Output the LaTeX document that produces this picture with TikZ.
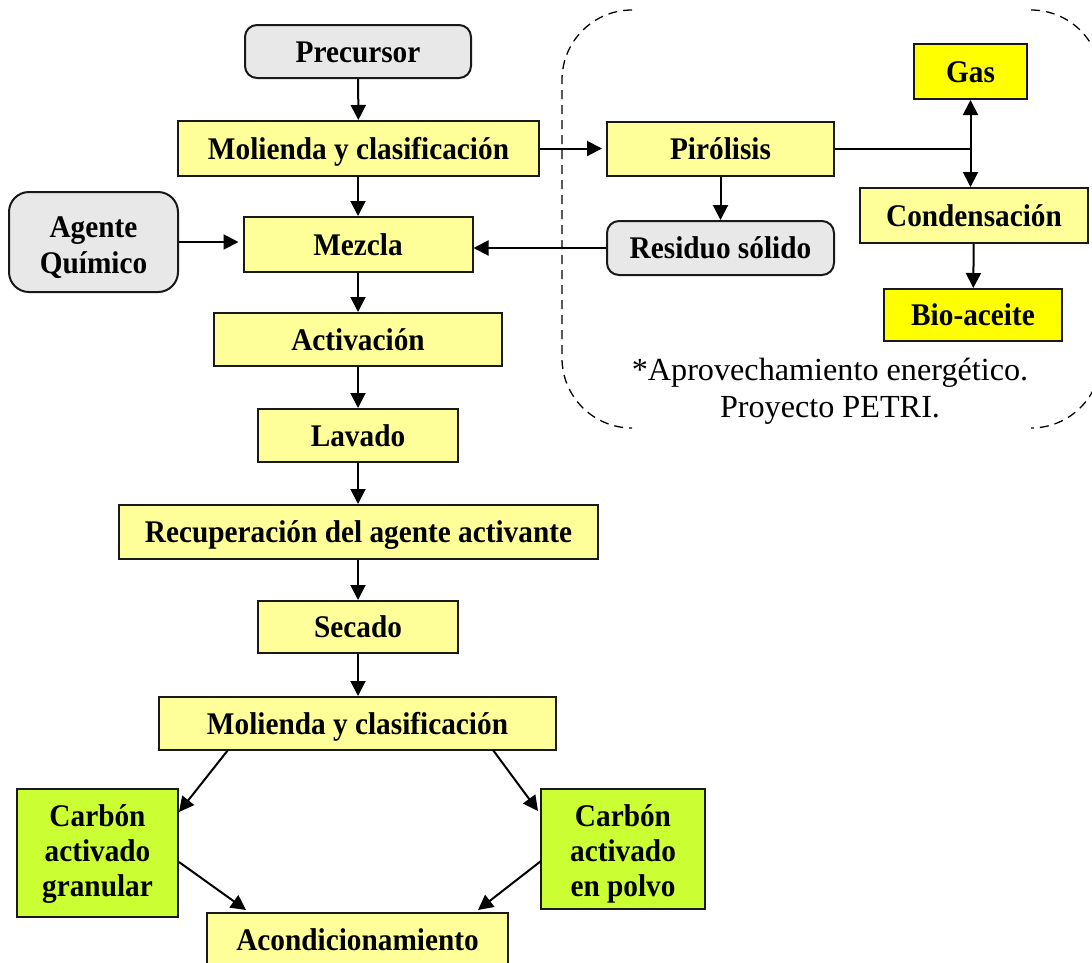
\documentclass[tikz,border=0pt]{standalone}
\usepackage{fontspec}
\setmainfont{Liberation Serif}[FakeStretch=0.93]
\newfontfamily\notefont{Liberation Serif}
\usetikzlibrary{arrows.meta,calc}
\definecolor{paleyellow}{HTML}{FFFF99}
\definecolor{brightyellow}{HTML}{FFFF00}
\definecolor{lime}{HTML}{CCFF33}
\definecolor{lightgray}{HTML}{E8E8E8}
\begin{document}
\begin{tikzpicture}[x=1pt,y=-1pt,
  box/.style={draw=black!90,line width=2pt,inner sep=0pt,align=center,
    font=\fontsize{31.5}{36}\selectfont\bfseries,
    text height=28pt,text depth=6.8pt},
  ybox/.style={box,fill=paleyellow},
  gasbox/.style={box,fill=brightyellow},
  gbox/.style={box,fill=lime},
  rbox/.style={box,fill=lightgray,rounded corners=12pt},
  twolines/.style={text height=69pt},
  threelines/.style={font=\fontsize{31.5}{35}\selectfont\bfseries},
  flow/.style={line width=2pt,-{Triangle[length=15pt,width=15pt]}},
  plain/.style={line width=2pt},
  dashline/.style={line width=1.3pt,dash pattern=on 9pt off 6pt,rounded corners=70pt},
  sz/.style n args={2}{minimum width=#1pt,minimum height=#2pt}]
\useasboundingbox (0,0) rectangle (1092,962);
\clip (0,0) rectangle (1092,962);
\fill[white] (0,0) rectangle (1092,962);

% main process chain
\node[rbox,sz={226}{53}] (prec) at (358,51.5) {Precursor};
\node[ybox,sz={361}{55}] (mol1) at (358.5,148.5) {Molienda y clasificación};
\node[rbox,sz={169}{100},rounded corners=20pt,twolines] (agente) at (93.5,242) {Agente\\Químico};
\node[ybox,sz={229}{55}] (mezcla) at (358,244.5) {Mezcla};
\node[ybox,sz={288}{53}] (activ) at (358,339.5) {Activación};
\node[ybox,sz={200}{53}] (lavado) at (358,435.5) {Lavado};
\node[ybox,sz={479}{54}] (recup) at (358.5,532) {Recuperación del agente activante};
\node[ybox,sz={200}{52}] (secado) at (358,627) {Secado};
\node[ybox,sz={397}{53}] (mol2) at (357.5,723.5) {Molienda y clasificación};
\node[gbox,sz={161}{128},threelines,text height=94pt] (gran) at (97.5,853) {Carbón\\activado\\granular};
\node[gbox,sz={164}{120},threelines,text height=101pt] (polvo) at (623,849) {Carbón\\activado\\en polvo};
\node[ybox,sz={301}{53}] (acond) at (357.5,939.5) {Acondicionamiento};

% pyrolysis branch
\node[ybox,sz={227}{54}] (piro) at (720.5,149) {Pirólisis};
\node[rbox,sz={227}{54}] (resid) at (720.5,248) {Residuo sólido};
\node[gasbox,sz={113}{55}] (gas) at (970.5,71.5) {Gas};
\node[ybox,sz={228}{55}] (cond) at (974,215.5) {Condensación};
\node[gasbox,sz={178}{52}] (bio) at (973,315) {Bio-aceite};

\node[align=center,font=\notefont\fontsize{32.2}{37}\selectfont] (nota) at (830,391)
  {*Aprovechamiento energético.\\Proyecto PETRI.};

% dashed enclosure of the energy-recovery stage
\draw[dashline] (632,10) -- (562,10) -- (562,428) -- (632,428);
\draw[dashline] (1031,10) -- (1101,10) -- (1101,428) -- (1031,428);

% connectors
\draw[flow] (prec) -- (mol1);
\draw[flow] (mol1.south -| prec.south) -- (mezcla);
\draw[flow] (mezcla) -- (activ);
\draw[flow] (activ) -- (lavado);
\draw[flow] (lavado) -- (recup.north -| lavado.south);
\draw[flow] (recup.south -| secado.north) -- (secado);
\draw[flow] (secado) -- (mol2.north -| secado.south);
\draw[flow,shorten >=4pt] (agente.east) -- (agente.east -| mezcla.west);
\draw[flow,shorten >=4pt] (mol1.east) -- (mol1.east -| piro.west);
\draw[flow] (piro) -- (resid);
\draw[flow] (resid.west) -- (resid.west -| mezcla.east);
\coordinate (split) at (piro.east -| gas.south);
\draw[plain] (piro.east) -- (split);
\draw[flow] (split) -- (gas.south);
\draw[flow] (split) -- (split |- cond.north);
\draw[flow] (cond) -- (bio);
\coordinate (m2l) at (228,750);
\coordinate (m2r) at (493,750);
\draw[flow] (m2l) -- (179,812);
\draw[flow] (m2r) -- (538,811);
\coordinate (gr) at (179,862);
\coordinate (pl) at (541,861);
\draw[flow] (gr) -- (246,910);
\draw[flow] (pl) -- (478,910);
\end{tikzpicture}
\end{document}
